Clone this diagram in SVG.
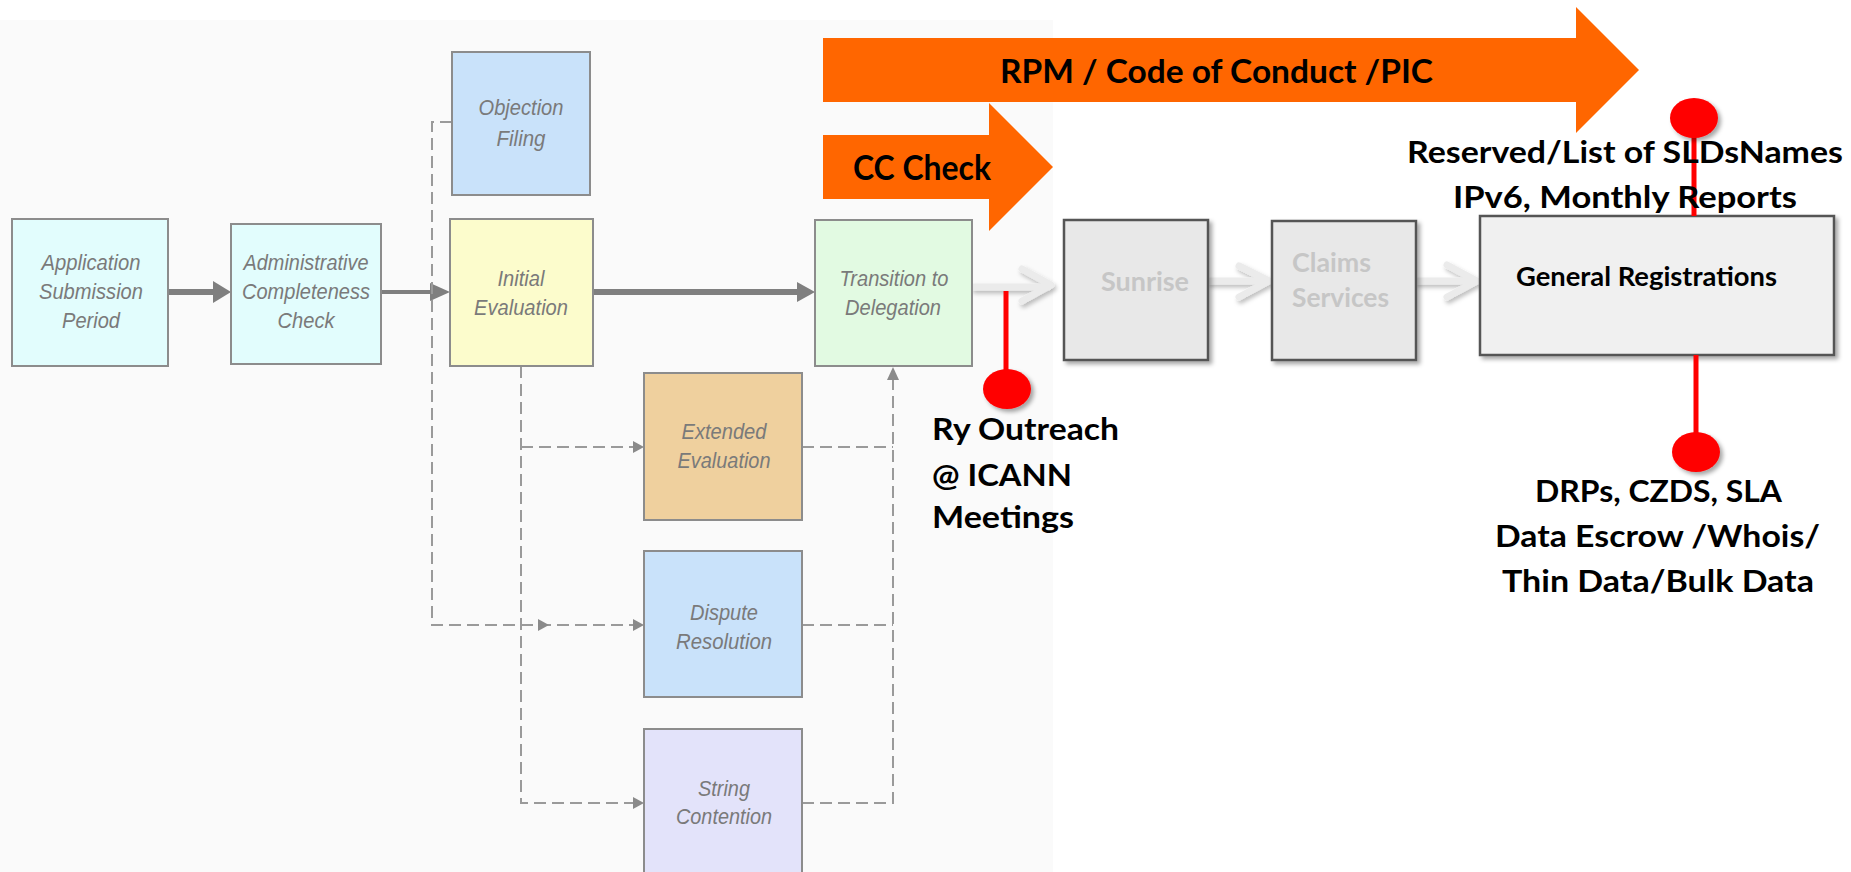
<svg xmlns="http://www.w3.org/2000/svg" width="1851" height="872" viewBox="0 0 1851 872">
<defs>
<style>
.bx{stroke:#8c8c8c;stroke-width:2}
.it{font-family:"Liberation Sans",Arial,sans-serif;font-style:italic;font-size:22px;fill:#7a7a7a;text-anchor:middle}
.gb{fill:#e8e8e8;stroke:#555;stroke-width:2.5}
.gb2{fill:#f0f0f0;stroke:#555;stroke-width:2.5}
.bt{font-family:Lato,"Liberation Sans",sans-serif;font-weight:700;fill:#000}
.gt{font-family:Lato,"Liberation Sans",sans-serif;font-weight:700;fill:#c6c6c6;font-size:26px}
.dash{fill:none;stroke:#9a9a9a;stroke-width:2;stroke-dasharray:12 6}
.ah{fill:#8a8a8a}
.sol{stroke:#7f7f7f;fill:none}
.chev{fill:none;stroke:#ebebeb;stroke-width:7;stroke-linecap:round;stroke-linejoin:round}
.red{stroke:#ff0000;stroke-width:5}
.orange{fill:#ff6600}
</style>
<filter id="sh" x="-20%" y="-20%" width="150%" height="150%">
<feDropShadow dx="3" dy="3" stdDeviation="2" flood-color="#000" flood-opacity="0.35"/>
</filter>
<filter id="sh2" x="-20%" y="-40%" width="150%" height="200%">
<feDropShadow dx="2" dy="3" stdDeviation="2" flood-color="#000" flood-opacity="0.25"/>
</filter>
</defs>
<rect x="0" y="0" width="1851" height="872" fill="#ffffff"/>
<rect x="0" y="20" width="1053" height="852" fill="#fafafa"/>

<g id="connectors">
<line class="sol" x1="168" y1="292" x2="215" y2="292" stroke-width="6"/>
<polygon points="213,281 231,292 213,303" fill="#7f7f7f"/>
<line class="sol" x1="381" y1="292" x2="432" y2="292" stroke-width="4"/>
<polygon points="430,283 450,292 430,301" fill="#7f7f7f"/>
<line class="sol" x1="593" y1="292" x2="800" y2="292" stroke-width="6"/>
<polygon points="797,282 815,292 797,302" fill="#7f7f7f"/>
<path class="dash" d="M452,122 H432 V625 H640"/>
<path class="dash" d="M521,366 V803 H640"/>
<path class="dash" d="M521,447 H640"/>
<path class="dash" d="M802,447 H893"/>
<path class="dash" d="M802,625 H893"/>
<path class="dash" d="M802,803 H893 V378"/>
<polygon class="ah" points="633,441 644,447 633,453"/>
<polygon class="ah" points="538,619 549,625 538,631"/>
<polygon class="ah" points="633,619 644,625 633,631"/>
<polygon class="ah" points="633,797 644,803 633,809"/>
<polygon class="ah" points="887,380 893,367 899,380"/>
<g filter="url(#sh2)">
<path class="chev" d="M974,287 H1048 M1022,269 L1051,285 L1022,301"/>
<path class="chev" d="M1210,281 H1266 M1239,266 L1269,281 L1239,297"/>
<path class="chev" d="M1418,281 H1474 M1447,265 L1477,281 L1447,297"/>
</g>
</g>

<g id="rpm-arrow">
<polygon class="orange" points="823,38 1576,38 1576,7 1639,70 1576,133 1576,102 823,102"/>
<text class="bt" x="1000" y="83" font-size="33" textLength="433" lengthAdjust="spacingAndGlyphs">RPM / Code of Conduct /PIC</text>
</g>
<g id="cc-arrow">
<polygon class="orange" points="823,135 989,135 989,103 1053,167 989,231 989,199 823,199"/>
<text class="bt" x="853" y="180" font-size="34" textLength="138" lengthAdjust="spacingAndGlyphs">CC Check</text>
</g>

<g id="app">
<rect class="bx" x="12" y="219" width="156" height="147" fill="#e2fdfd"/>
<text class="it" x="91" y="270" textLength="99" lengthAdjust="spacingAndGlyphs">Application</text>
<text class="it" x="91" y="299" textLength="104" lengthAdjust="spacingAndGlyphs">Submission</text>
<text class="it" x="91" y="328" textLength="58" lengthAdjust="spacingAndGlyphs">Period</text>
</g>
<g id="admin">
<rect class="bx" x="231" y="224" width="150" height="140" fill="#e2fdfd"/>
<text class="it" x="306" y="270" textLength="125" lengthAdjust="spacingAndGlyphs">Administrative</text>
<text class="it" x="306" y="299" textLength="128" lengthAdjust="spacingAndGlyphs">Completeness</text>
<text class="it" x="306" y="328" textLength="57" lengthAdjust="spacingAndGlyphs">Check</text>
</g>
<g id="objection">
<rect class="bx" x="452" y="52" width="138" height="143" fill="#c9e2fa"/>
<text class="it" x="521" y="115" textLength="85" lengthAdjust="spacingAndGlyphs">Objection</text>
<text class="it" x="521" y="146" textLength="49" lengthAdjust="spacingAndGlyphs">Filing</text>
</g>
<g id="initial">
<rect class="bx" x="450" y="219" width="143" height="147" fill="#fcfccc"/>
<text class="it" x="521" y="286" textLength="47" lengthAdjust="spacingAndGlyphs">Initial</text>
<text class="it" x="521" y="315" textLength="94" lengthAdjust="spacingAndGlyphs">Evaluation</text>
</g>
<g id="transition">
<rect class="bx" x="815" y="220" width="157" height="146" fill="#e2fae2"/>
<text class="it" x="894" y="286" textLength="109" lengthAdjust="spacingAndGlyphs">Transition to</text>
<text class="it" x="893" y="315" textLength="96" lengthAdjust="spacingAndGlyphs">Delegation</text>
</g>
<g id="extended">
<rect class="bx" x="644" y="373" width="158" height="147" fill="#efd09e"/>
<text class="it" x="724" y="439" textLength="85" lengthAdjust="spacingAndGlyphs">Extended</text>
<text class="it" x="724" y="468" textLength="93" lengthAdjust="spacingAndGlyphs">Evaluation</text>
</g>
<g id="dispute">
<rect class="bx" x="644" y="551" width="158" height="146" fill="#c9e2fa"/>
<text class="it" x="724" y="620" textLength="68" lengthAdjust="spacingAndGlyphs">Dispute</text>
<text class="it" x="724" y="649" textLength="96" lengthAdjust="spacingAndGlyphs">Resolution</text>
</g>
<g id="string">
<rect class="bx" x="644" y="729" width="158" height="150" fill="#e3e3fa"/>
<text class="it" x="724" y="796" textLength="52" lengthAdjust="spacingAndGlyphs">String</text>
<text class="it" x="724" y="824" textLength="96" lengthAdjust="spacingAndGlyphs">Contention</text>
</g>

<g id="sunrise">
<rect class="gb" x="1064" y="220" width="144" height="140" filter="url(#sh)"/>
<text class="gt" x="1145" y="291" text-anchor="middle" textLength="88" lengthAdjust="spacingAndGlyphs">Sunrise</text>
</g>
<g id="claims">
<rect class="gb" x="1272" y="221" width="144" height="139" filter="url(#sh)"/>
<text class="gt" x="1292" y="272" textLength="79" lengthAdjust="spacingAndGlyphs">Claims</text>
<text class="gt" x="1292" y="307" textLength="97" lengthAdjust="spacingAndGlyphs">Services</text>
</g>
<g id="general">
<rect class="gb2" x="1480" y="216" width="354" height="139" filter="url(#sh)"/>
<text class="bt" x="1516" y="286" font-size="26" textLength="261" lengthAdjust="spacingAndGlyphs">General Registrations</text>
</g>

<g id="pin-outreach">
<line class="red" x1="1006" y1="291" x2="1006" y2="389"/>
<ellipse cx="1007" cy="389" rx="24" ry="20" fill="#ff0000" filter="url(#sh)"/>
<text class="bt" x="932" y="440" font-size="31" textLength="187" lengthAdjust="spacingAndGlyphs">Ry Outreach</text>
<text class="bt" x="932" y="486" font-size="31" textLength="140" lengthAdjust="spacingAndGlyphs">@ ICANN</text>
<text class="bt" x="932" y="528" font-size="31" textLength="142" lengthAdjust="spacingAndGlyphs">Meetings</text>
</g>
<g id="pin-top">
<line class="red" x1="1694" y1="118" x2="1694" y2="216"/>
<ellipse cx="1694" cy="118" rx="24" ry="20" fill="#ff0000" filter="url(#sh)"/>
<text class="bt" x="1407" y="163" font-size="31" textLength="436" lengthAdjust="spacingAndGlyphs">Reserved/List of SLDsNames</text>
<text class="bt" x="1453" y="208" font-size="31" textLength="344" lengthAdjust="spacingAndGlyphs">IPv6, Monthly Reports</text>
</g>
<g id="pin-bottom">
<line class="red" x1="1696" y1="355" x2="1696" y2="452"/>
<ellipse cx="1696" cy="452" rx="24" ry="20" fill="#ff0000" filter="url(#sh)"/>
<text class="bt" x="1535" y="502" font-size="31" textLength="247" lengthAdjust="spacingAndGlyphs">DRPs, CZDS, SLA</text>
<text class="bt" x="1495" y="547" font-size="31" textLength="325" lengthAdjust="spacingAndGlyphs">Data Escrow /Whois/</text>
<text class="bt" x="1502" y="592" font-size="31" textLength="312" lengthAdjust="spacingAndGlyphs">Thin Data/Bulk Data</text>
</g>
</svg>
